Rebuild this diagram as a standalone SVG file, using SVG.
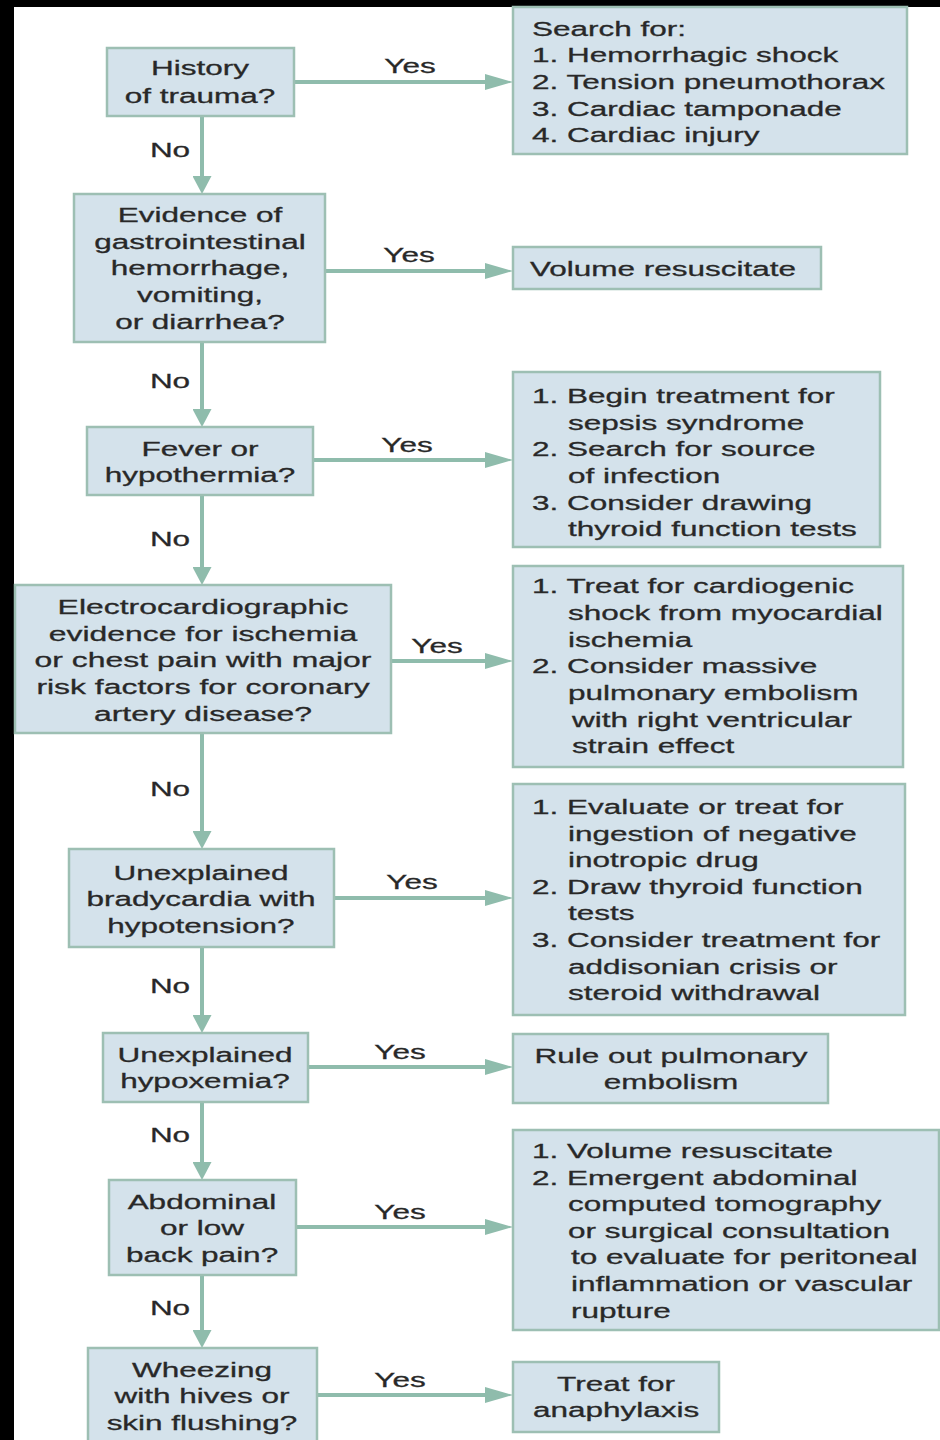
<svg xmlns="http://www.w3.org/2000/svg" width="940" height="1440" viewBox="0 0 940 1440">
<style>
.box{fill:#d4e2eb;stroke:#9dbfb3;stroke-width:2.5}
.t{font-family:"Liberation Sans",Arial,Helvetica,sans-serif;font-size:21px;fill:#282828;stroke:#282828;stroke-width:0.3}
.c{text-anchor:middle}
.edge{stroke:#8fbcac;stroke-width:4;fill:none}
.lbl{font-family:"Liberation Sans",Arial,Helvetica,sans-serif;font-size:21px;fill:#282828;stroke:#282828;stroke-width:0.3;text-anchor:middle}
</style>
<defs>
<marker id="ah" markerUnits="userSpaceOnUse" viewBox="0 0 28 16" refX="0" refY="8" markerWidth="28" markerHeight="16" orient="auto">
<path d="M0,0 L28,8 L0,16 z" fill="#8fbcac"/>
</marker>
<marker id="av" markerUnits="userSpaceOnUse" viewBox="0 0 18 19" refX="0" refY="9.5" markerWidth="18" markerHeight="19" orient="auto">
<path d="M0,0 L18,9.5 L0,19 z" fill="#8fbcac"/>
</marker>
</defs>
<rect x="0" y="0" width="940" height="1440" fill="#ffffff"/>
<rect x="0" y="0" width="14" height="1440" fill="#000000"/>
<rect x="0" y="0" width="940" height="7" fill="#000000"/>

<g id="connectors">
<line class="edge" x1="202" y1="116" x2="202" y2="176" marker-end="url(#av)"/>
<line class="edge" x1="202" y1="342" x2="202" y2="409" marker-end="url(#av)"/>
<line class="edge" x1="202" y1="495" x2="202" y2="567" marker-end="url(#av)"/>
<line class="edge" x1="202" y1="733" x2="202" y2="831" marker-end="url(#av)"/>
<line class="edge" x1="202" y1="947" x2="202" y2="1015" marker-end="url(#av)"/>
<line class="edge" x1="202" y1="1102" x2="202" y2="1162" marker-end="url(#av)"/>
<line class="edge" x1="202" y1="1275" x2="202" y2="1330" marker-end="url(#av)"/>
<line class="edge" x1="294" y1="82" x2="485" y2="82" marker-end="url(#ah)"/>
<line class="edge" x1="325" y1="271" x2="485" y2="271" marker-end="url(#ah)"/>
<line class="edge" x1="313" y1="460" x2="485" y2="460" marker-end="url(#ah)"/>
<line class="edge" x1="391" y1="661" x2="485" y2="661" marker-end="url(#ah)"/>
<line class="edge" x1="334" y1="898" x2="485" y2="898" marker-end="url(#ah)"/>
<line class="edge" x1="308" y1="1067" x2="485" y2="1067" marker-end="url(#ah)"/>
<line class="edge" x1="296" y1="1227" x2="485" y2="1227" marker-end="url(#ah)"/>
<line class="edge" x1="317" y1="1395" x2="485" y2="1395" marker-end="url(#ah)"/>
<text class="lbl" transform="translate(170,157) scale(1.5,1)">No</text>
<text class="lbl" transform="translate(170,388) scale(1.5,1)">No</text>
<text class="lbl" transform="translate(170,546) scale(1.5,1)">No</text>
<text class="lbl" transform="translate(170,796) scale(1.5,1)">No</text>
<text class="lbl" transform="translate(170,993) scale(1.5,1)">No</text>
<text class="lbl" transform="translate(170,1142) scale(1.5,1)">No</text>
<text class="lbl" transform="translate(170,1315) scale(1.5,1)">No</text>
<text class="lbl" transform="translate(410,73) scale(1.5,1)">Yes</text>
<text class="lbl" transform="translate(409,262) scale(1.5,1)">Yes</text>
<text class="lbl" transform="translate(407,452) scale(1.5,1)">Yes</text>
<text class="lbl" transform="translate(437,653) scale(1.5,1)">Yes</text>
<text class="lbl" transform="translate(412,889) scale(1.5,1)">Yes</text>
<text class="lbl" transform="translate(400,1059) scale(1.5,1)">Yes</text>
<text class="lbl" transform="translate(400,1219) scale(1.5,1)">Yes</text>
<text class="lbl" transform="translate(400,1387) scale(1.5,1)">Yes</text>
</g>

<g id="q1">
<rect class="box" x="107" y="48" width="187" height="68"/>
<text class="t c" transform="translate(200,0) scale(1.5,1)"><tspan x="0" y="75">History</tspan><tspan x="0" y="103">of trauma?</tspan></text>
</g>
<g id="q2">
<rect class="box" x="74" y="194" width="251" height="148"/>
<text class="t c" transform="translate(200,0) scale(1.5,1)"><tspan x="0" y="222">Evidence of</tspan><tspan x="0" y="248.7">gastrointestinal</tspan><tspan x="0" y="275.4">hemorrhage,</tspan><tspan x="0" y="302">vomiting,</tspan><tspan x="0" y="328.8">or diarrhea?</tspan></text>
</g>
<g id="q3">
<rect class="box" x="87" y="427" width="226" height="68"/>
<text class="t c" transform="translate(200,0) scale(1.5,1)"><tspan x="0" y="456">Fever or</tspan><tspan x="0" y="482">hypothermia?</tspan></text>
</g>
<g id="q4">
<rect class="box" x="15" y="585" width="376" height="148"/>
<text class="t c" transform="translate(203,0) scale(1.52,1)"><tspan x="0" y="614">Electrocardiographic</tspan><tspan x="0" y="640.7">evidence for ischemia</tspan><tspan x="0" y="667.4">or chest pain with major</tspan><tspan x="0" y="694">risk factors for coronary</tspan><tspan x="0" y="720.8">artery disease?</tspan></text>
</g>
<g id="q5">
<rect class="box" x="69" y="849" width="265" height="98"/>
<text class="t c" transform="translate(201,0) scale(1.5,1)"><tspan x="0" y="880">Unexplained</tspan><tspan x="0" y="906.5">bradycardia with</tspan><tspan x="0" y="933">hypotension?</tspan></text>
</g>
<g id="q6">
<rect class="box" x="103" y="1033" width="205" height="69"/>
<text class="t c" transform="translate(205,0) scale(1.5,1)"><tspan x="0" y="1062">Unexplained</tspan><tspan x="0" y="1088.5">hypoxemia?</tspan></text>
</g>
<g id="q7">
<rect class="box" x="109" y="1180" width="187" height="95"/>
<text class="t c" transform="translate(202,0) scale(1.5,1)"><tspan x="0" y="1209">Abdominal</tspan><tspan x="0" y="1235.5">or low</tspan><tspan x="0" y="1262">back pain?</tspan></text>
</g>
<g id="q8">
<rect class="box" x="88" y="1348" width="229" height="104"/>
<text class="t c" transform="translate(202,0) scale(1.5,1)"><tspan x="0" y="1377">Wheezing</tspan><tspan x="0" y="1403.5">with hives or</tspan><tspan x="0" y="1430">skin flushing?</tspan></text>
</g>

<g id="a1">
<rect class="box" x="513" y="7" width="394" height="147"/>
<text class="t" transform="translate(532,0) scale(1.5,1)"><tspan x="0" y="36">Search for:</tspan><tspan x="0" y="62.5">1. Hemorrhagic shock</tspan><tspan x="0" y="89">2. Tension pneumothorax</tspan><tspan x="0" y="115.6">3. Cardiac tamponade</tspan><tspan x="0" y="142">4. Cardiac injury</tspan></text>
</g>
<g id="a2">
<rect class="box" x="513" y="247" width="308" height="42"/>
<text class="t" transform="translate(530,0) scale(1.5,1)"><tspan x="0" y="276">Volume resuscitate</tspan></text>
</g>
<g id="a3">
<rect class="box" x="513" y="372" width="367" height="175"/>
<text class="t" transform="translate(532,0) scale(1.5,1)"><tspan x="0" y="403">1. Begin treatment for</tspan><tspan x="24" y="429.7">sepsis syndrome</tspan><tspan x="0" y="456.3">2. Search for source</tspan><tspan x="24" y="483">of infection</tspan><tspan x="0" y="509.6">3. Consider drawing</tspan><tspan x="24" y="536.3">thyroid function tests</tspan></text>
</g>
<g id="a4">
<rect class="box" x="513" y="566" width="390" height="201"/>
<text class="t" transform="translate(532,0) scale(1.5,1)"><tspan x="0" y="593.3">1. Treat for cardiogenic</tspan><tspan x="24" y="620">shock from myocardial</tspan><tspan x="24" y="646.7">ischemia</tspan><tspan x="0" y="673.3">2. Consider massive</tspan><tspan x="24" y="700">pulmonary embolism</tspan><tspan x="26.7" y="726.7">with right ventricular</tspan><tspan x="26.7" y="753.3">strain effect</tspan></text>
</g>
<g id="a5">
<rect class="box" x="513" y="784" width="392" height="231"/>
<text class="t" transform="translate(532,0) scale(1.5,1)"><tspan x="0" y="814">1. Evaluate or treat for</tspan><tspan x="24" y="840.6">ingestion of negative</tspan><tspan x="24" y="867.2">inotropic drug</tspan><tspan x="0" y="893.8">2. Draw thyroid function</tspan><tspan x="24" y="920.4">tests</tspan><tspan x="0" y="947">3. Consider treatment for</tspan><tspan x="24" y="973.6">addisonian crisis or</tspan><tspan x="24" y="1000.2">steroid withdrawal</tspan></text>
</g>
<g id="a6">
<rect class="box" x="513" y="1034" width="315" height="69"/>
<text class="t c" transform="translate(671,0) scale(1.5,1)"><tspan x="0" y="1063">Rule out pulmonary</tspan><tspan x="0" y="1089">embolism</tspan></text>
</g>
<g id="a7">
<rect class="box" x="513" y="1130" width="426" height="200"/>
<text class="t" transform="translate(532,0) scale(1.5,1)"><tspan x="0" y="1158">1. Volume resuscitate</tspan><tspan x="0" y="1184.6">2. Emergent abdominal</tspan><tspan x="24" y="1211.2">computed tomography</tspan><tspan x="24" y="1237.8">or surgical consultation</tspan><tspan x="26" y="1264.4">to evaluate for peritoneal</tspan><tspan x="26" y="1291">inflammation or vascular</tspan><tspan x="26" y="1317.6">rupture</tspan></text>
</g>
<g id="a8">
<rect class="box" x="513" y="1362" width="206" height="70"/>
<text class="t c" transform="translate(616,0) scale(1.5,1)"><tspan x="0" y="1391">Treat for</tspan><tspan x="0" y="1417.5">anaphylaxis</tspan></text>
</g>
</svg>
